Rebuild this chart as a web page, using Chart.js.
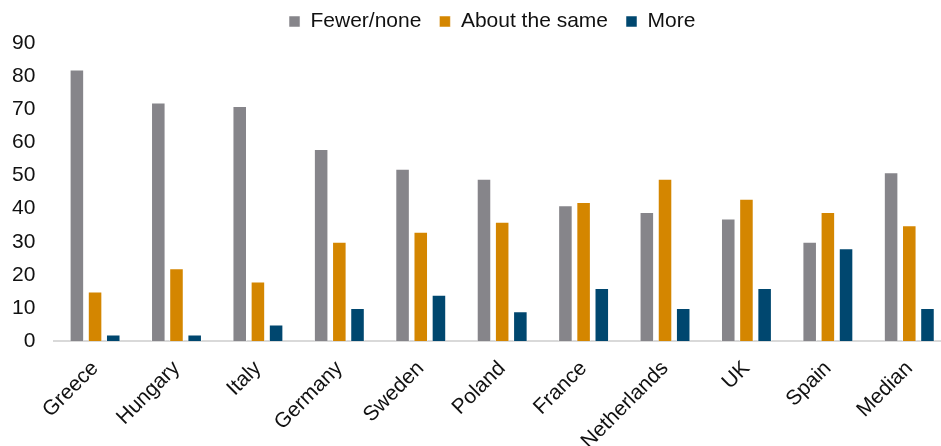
<!DOCTYPE html>
<html>
<head>
<meta charset="utf-8">
<script src="https://cdn.jsdelivr.net/npm/chart.js@4.4.1/dist/chart.umd.min.js"></script>
<style>
    html, body { margin: 0; padding: 0; background: #fff; overflow: hidden; }
    #wrap { width: 950px; height: 446px; position: relative; }
</style>
</head>
<body>
<div id="wrap"><canvas id="myChart"></canvas></div>
<script>
var countries = ["Greece", "Hungary", "Italy", "Germany", "Sweden", "Poland", "France", "Netherlands", "UK", "Spain", "Median"];
var fewerNone = [82, 72, 71, 58, 52, 49, 41, 39, 37, 30, 51];
var aboutSame = [15, 22, 18, 30, 33, 36, 42, 49, 43, 39, 35];
var more = [2, 2, 5, 10, 14, 9, 16, 10, 16, 28, 10];
var yTicks = [0, 10, 20, 30, 40, 50, 60, 70, 80, 90];

var font = "'Liberation Sans', Arial, sans-serif";
Chart.defaults.font.family = font;
Chart.defaults.color = '#111';

function makeSet(label, data, color) {
    return {
        label: label,
        data: data,
        backgroundColor: color,
        borderColor: 'rgba(255,255,255,0.5)',
        borderWidth: 1,
        categoryPercentage: 0.67,
        barPercentage: 0.8
    };
}

// legend: a little more room below it, and nudge it left
var legendTweak = {
    id: 'legendTweak',
    beforeInit: function (chart) {
        var fit = chart.legend.fit;
        chart.legend.fit = function () {
            fit.bind(chart.legend)();
            this.height += 1;
        };
    },
    afterLayout: function (chart) {
        chart.legend.left -= 10;
        chart.legend.right -= 10;
    }
};

var ctx = document.getElementById('myChart').getContext('2d');
var chart = new Chart(ctx, {
    type: 'bar',
    data: {
        labels: countries,
        datasets: [
            makeSet("Fewer/none", fewerNone, '#86858a'),
            makeSet("About the same", aboutSame, '#d48600'),
            makeSet("More", more, '#00476f')
        ]
    },
    plugins: [legendTweak],
    options: {
        responsive: true,
        maintainAspectRatio: false,
        animation: false,
        layout: { padding: { left: -7, right: 0, top: -7, bottom: -23 } },
        plugins: {
            legend: {
                position: 'top',
                fullSize: false,
                labels: {
                    boxWidth: 11,
                    boxHeight: 11,
                    padding: 18,
                    font: { size: 21 },
                    color: '#111'
                }
            },
            tooltip: { enabled: false }
        },
        scales: {
            x: {
                grid: { display: false, drawTicks: false },
                border: { display: true, color: '#d9d9d9', width: 2 },
                ticks: {
                    minRotation: 45,
                    maxRotation: 45,
                    padding: 15,
                    font: { size: 21 },
                    color: '#111'
                }
            },
            y: {
                min: 0,
                max: 90,
                afterBuildTicks: function (axis) {
                    axis.ticks = yTicks.map(function (v) { return { value: v }; });
                },
                grid: { display: false, drawTicks: false },
                border: { display: false },
                ticks: {
                    padding: 19,
                    font: { size: 21 },
                    color: '#111'
                }
            }
        }
    }
});
</script>
</body>
</html>
